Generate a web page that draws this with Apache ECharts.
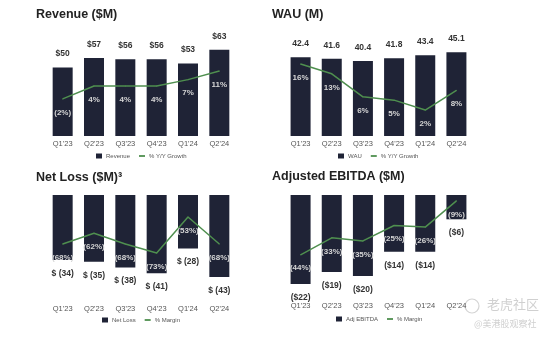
<!DOCTYPE html>
<html>
<head>
<meta charset="utf-8">
<script src="https://cdn.jsdelivr.net/npm/echarts@6/dist/echarts.min.js"></script>
<style>
html,body{margin:0;padding:0;background:#fff;}
#c{width:554px;height:337px;}
</style>
</head>
<body>
<div id="c"></div>
<script>
const categories = ["Q1'23", "Q2'23", "Q3'23", "Q4'23", "Q1'24", "Q2'24"];
const revenue = [50, 57, 56, 56, 53, 63];
const revenueGrowth = [-2, 4, 4, 4, 7, 11];
const wau = [42.4, 41.6, 40.4, 41.8, 43.4, 45.1];
const wauGrowth = [16, 13, 6, 5, 2, 8];
const netLoss = [-34, -35, -38, -41, -28, -43];
const netLossMargin = [-68, -62, -68, -73, -53, -68];
const ebitda = [-22, -19, -20, -14, -14, -6];
const ebitdaMargin = [-44, -33, -35, -25, -26, -9];

const FONT = 'Liberation Sans';
const BAR = '#1f2336';
const LINE = '#4f8f4f';
const linePath = 'path://M0,0H10V3H0Z';

function pct(v) { return v < 0 ? '(' + Math.abs(v) + '%)' : v + '%'; }

const grids = [
  {left: 47, width: 188, top: 36, height: 100},
  {left: 285, width: 187, top: 36, height: 100},
  {left: 47, width: 188, top: 195, height: 100},
  {left: 285, width: 187, top: 195, height: 100}
];
const labelMargins = [4, 4, 10, 7];

const xAxes = grids.map((g, i) => ({
  type: 'category', gridIndex: i, data: categories,
  axisLine: {show: false, onZero: false}, axisTick: {show: false},
  axisLabel: {color: '#555', fontSize: 7.5, fontFamily: FONT, margin: labelMargins[i]}
}));

const yRanges = [
  [0, 0, 73], [0, -19.35, 27.4],
  [1, 0, 53.8], [1, -5.9, 24.5],
  [2, -52.4, 0], [2, -96.3, -40.8],
  [3, -24.7, 0], [3, -70.1, -5.19]
];
const yAxes = yRanges.map(r => ({
  type: 'value', gridIndex: r[0], min: r[1], max: r[2], show: false,
  splitLine: {show: false}
}));

const barLabelStyle = {show: true, color: '#333', fontSize: 8.5, fontWeight: 'bold', fontFamily: FONT, distance: 9};
const pctLabelStyle = {show: true, position: 'bottom', distance: 9, color: '#d6d6d6', fontSize: 8, fontWeight: 'bold', fontFamily: FONT, formatter: p => pct(p.value)};

function barSeries(name, data, xi, yi, pos, fmt) {
  return {
    type: 'bar', name: name, data: data, xAxisIndex: xi, yAxisIndex: yi,
    barWidth: 20, itemStyle: {color: BAR},
    label: Object.assign({}, barLabelStyle, {position: pos, formatter: p => fmt(p.value)})
  };
}
function lineSeries(name, data, xi, yi) {
  return {
    type: 'line', name: name, data: data, xAxisIndex: xi, yAxisIndex: yi,
    symbol: 'circle', symbolSize: 1, itemStyle: {color: LINE},
    lineStyle: {color: LINE, width: 1.5}, z: 5,
    label: pctLabelStyle
  };
}

const legendBase = {
  orient: 'horizontal', padding: 0, itemWidth: 6, itemHeight: 5, itemGap: 9,
  textStyle: {fontSize: 6, color: '#555', fontFamily: FONT, padding: [0, 0, 0, -1]},
  selectedMode: false
};

const titleStyle = {fontSize: 12.5, fontWeight: 'bold', color: '#222', fontFamily: FONT};

const option = {
  animation: false,
  backgroundColor: '#fff',
  title: [
    {text: 'Revenue ($M)', left: 36, top: 8, padding: 0, textStyle: titleStyle},
    {text: 'WAU (M)', left: 272, top: 8, padding: 0, textStyle: titleStyle},
    {text: 'Net Loss ($M)\u00B3', left: 36, top: 171, padding: 0, textStyle: titleStyle},
    {text: 'Adjusted EBITDA ($M)', left: 272, top: 170, padding: 0, textStyle: titleStyle}
  ],
  legend: [
    Object.assign({}, legendBase, {left: 96, top: 153, data: [{name: 'Revenue', icon: 'rect'}, {name: '% Y/Y Growth', icon: linePath}]}),
    Object.assign({}, legendBase, {left: 338, top: 153, data: [{name: 'WAU', icon: 'rect'}, {name: '% Y/Y Growth', icon: linePath}]}),
    Object.assign({}, legendBase, {left: 102, top: 317, data: [{name: 'Net Loss', icon: 'rect'}, {name: '% Margin', icon: linePath}]}),
    Object.assign({}, legendBase, {left: 336, top: 316, data: [{name: 'Adj EBITDA', icon: 'rect'}, {name: '% Margin', icon: linePath}]})
  ],
  grid: grids,
  xAxis: xAxes,
  yAxis: yAxes,
  series: [
    barSeries('Revenue', revenue, 0, 0, 'top', v => '$' + v),
    lineSeries('% Y/Y Growth', revenueGrowth, 0, 1),
    barSeries('WAU', wau, 1, 2, 'top', v => v.toFixed(1)),
    lineSeries('% Y/Y Growth', wauGrowth, 1, 3),
    barSeries('Net Loss', netLoss, 2, 4, 'bottom', v => '$ (' + Math.abs(v) + ')'),
    lineSeries('% Margin', netLossMargin, 2, 5),
    barSeries('Adj EBITDA', ebitda, 3, 6, 'bottom', v => '($' + Math.abs(v) + ')'),
    lineSeries('% Margin', ebitdaMargin, 3, 7)
  ],
  graphic: [
    {type: 'circle', shape: {cx: 472, cy: 306, r: 7}, style: {fill: 'none', stroke: '#d4d4d4', lineWidth: 1.2}},
    {type: 'text', left: 487, top: 298, style: {text: '老虎社区', fontSize: 13, fill: '#d0d0d0', fontFamily: 'Noto Sans CJK SC'}},
    {type: 'text', left: 474, top: 319, style: {text: '@美港股观察社', fontSize: 9, fill: '#d0d0d0', fontFamily: 'Noto Sans CJK SC'}}
  ]
};

const chart = echarts.init(document.getElementById('c'), null, {renderer: 'canvas'});
chart.setOption(option);
</script>
</body>
</html>
